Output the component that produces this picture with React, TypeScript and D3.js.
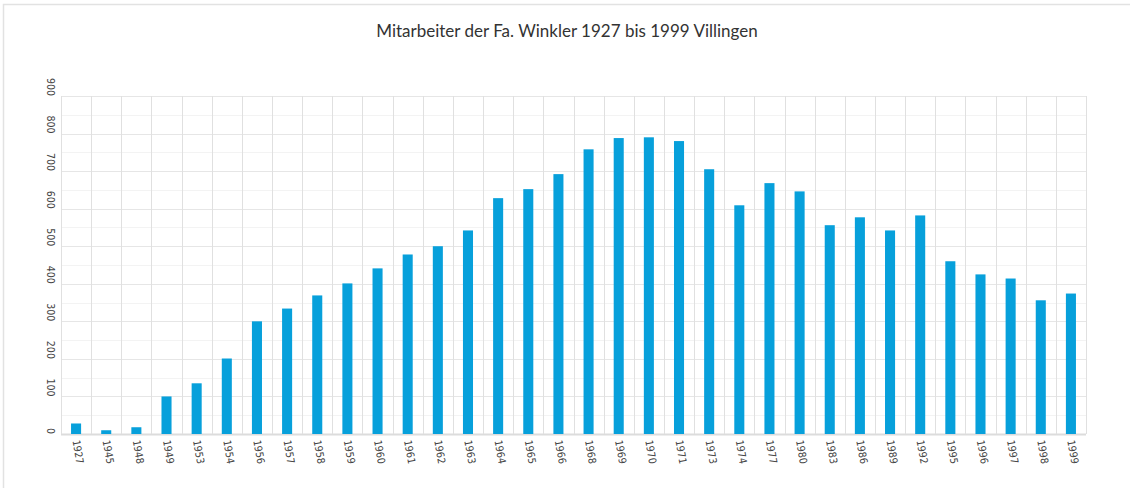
import React, { useEffect, useRef } from 'react';
import * as d3 from 'd3';

// Jahre (Kategorien) und Mitarbeiterzahlen
const years = [
  '1927', '1945', '1948', '1949', '1953', '1954', '1956', '1957', '1958',
  '1959', '1960', '1961', '1962', '1963', '1964', '1965', '1966', '1968',
  '1969', '1970', '1971', '1973', '1974', '1977', '1980', '1983', '1986',
  '1989', '1992', '1995', '1996', '1997', '1998', '1999'
];
const employees = [
  28, 10, 18, 100, 135, 201, 300, 334, 369,
  401, 441, 478, 500, 542, 628, 652, 692, 758,
  788, 790, 780, 705, 609, 668, 646, 556, 577,
  542, 582, 460, 425, 414, 356, 374
];
const yTicks = [0, 100, 200, 300, 400, 500, 600, 700, 800, 900];
const title = 'Mitarbeiter der Fa. Winkler 1927 bis 1999 Villingen';

const W = 1130;
const H = 488;

const App: React.FC = () => {
  const svgRef = useRef<SVGSVGElement>(null);

  useEffect(() => {
    if (!svgRef.current) return;
    const svg = d3.select(svgRef.current);
    svg.selectAll('*').remove();

    const margin = { top: 96, right: 44, bottom: 54, left: 61 };
    const innerWidth = W - margin.left - margin.right;
    const innerHeight = H - margin.top - margin.bottom;

    const data = years.map((y, i) => ({ year: y, value: employees[i] }));

    const x = d3.scaleBand()
      .domain(years)
      .range([0, innerWidth])
      .padding(0);

    const y = d3.scaleLinear()
      .domain([0, 900])
      .range([innerHeight, 0]);

    // Rahmen
    svg.append('rect')
      .attr('x', 3.5)
      .attr('y', 4.5)
      .attr('width', W)
      .attr('height', H)
      .attr('fill', 'white')
      .attr('stroke', '#e2e2e2')
      .attr('stroke-width', 1.5);

    svg.append('text')
      .attr('x', 567)
      .attr('y', 37)
      .attr('text-anchor', 'middle')
      .style('font-family', 'Lato, "Open Sans", sans-serif')
      .style('font-size', '17px')
      .style('fill', '#333')
      .text(title);

    const g = svg.append('g')
      .attr('transform', `translate(${margin.left},${margin.top})`);

    // Hilfslinien (halbe Schritte)
    g.append('g')
      .selectAll('line')
      .data(d3.range(50, 900, 100))
      .join('line')
      .attr('x1', 0)
      .attr('x2', innerWidth)
      .attr('y1', d => Math.round(y(d)) + 0.5)
      .attr('y2', d => Math.round(y(d)) + 0.5)
      .attr('stroke', '#f3f3f3')
      .attr('stroke-width', 1);

    // Hauptlinien
    g.append('g')
      .selectAll('line')
      .data(yTicks)
      .join('line')
      .attr('x1', 0)
      .attr('x2', innerWidth)
      .attr('y1', d => Math.round(y(d)) + 0.5)
      .attr('y2', d => Math.round(y(d)) + 0.5)
      .attr('stroke', d => d === 0 ? '#dcdcdc' : '#e6e6e6')
      .attr('stroke-width', d => d === 0 ? 2 : 1);

    // senkrechte Linien
    const vLines = years.map(yr => x(yr) || 0).concat([innerWidth]);
    g.append('g')
      .selectAll('line')
      .data(vLines)
      .join('line')
      .attr('x1', d => Math.round(d) + 0.5)
      .attr('x2', d => Math.round(d) + 0.5)
      .attr('y1', 0)
      .attr('y2', innerHeight)
      .attr('stroke', '#e0e0e0')
      .attr('stroke-width', 1);

    // Balken
    const barW = x.bandwidth() / 3;
    g.selectAll('.bar')
      .data(data)
      .join('rect')
      .attr('class', 'bar')
      .attr('x', d => (x(d.year) || 0) + x.bandwidth() / 2 - barW / 2)
      .attr('y', d => y(d.value))
      .attr('width', barW)
      .attr('height', d => innerHeight - y(d.value))
      .attr('fill', '#07a0db');

    // Y-Achse
    g.append('g')
      .selectAll('text')
      .data(yTicks)
      .join('text')
      .attr('transform', d => `translate(-10,${y(d)}) rotate(90)`)
      .attr('dy', '0.35em')
      .attr('text-anchor', 'end')
      .style('font-family', '"DejaVu Sans Condensed", "DejaVu Sans", sans-serif')
      .style('font-size', '10.5px')
      .style('fill', '#444')
      .text(d => d);

    // X-Achse
    g.append('g')
      .selectAll('text')
      .data(years)
      .join('text')
      .attr('transform', d => `translate(${(x(d) || 0) + x.bandwidth() / 2},${innerHeight + 6}) rotate(80)`)
      .attr('dy', '0.35em')
      .attr('text-anchor', 'start')
      .style('font-family', '"DejaVu Sans Condensed", "DejaVu Sans", sans-serif')
      .style('font-size', '10.5px')
      .style('fill', '#444')
      .text(d => d);
  }, []);

  return (
    <svg
      ref={svgRef}
      width={W}
      height={H}
      style={{ position: 'absolute', left: 0, top: 0, display: 'block', background: 'white' }}
    />
  );
};

export default App;
